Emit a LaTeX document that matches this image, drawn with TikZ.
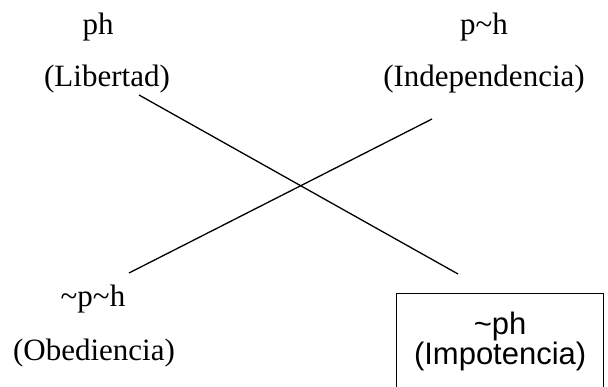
\documentclass[tikz,border=0pt]{standalone}
\usepackage{fontspec}
\setmainfont{Liberation Serif}
\setsansfont{Liberation Sans}
\usetikzlibrary{positioning}
\newcommand{\tld}{\textasciitilde}

\begin{document}
\begin{tikzpicture}[
        x=1pt, y=-1pt,
        lbl/.style={inner sep=0pt, font=\fontsize{31}{37}\selectfont},
        boxlbl/.style={draw, line width=1.3pt, anchor=north west, minimum width=207pt, inner xsep=0pt, inner ysep=18.8pt, align=center, font=\sffamily\fontsize{31}{30}\selectfont},
        cross/.style={line width=1.3pt}
      ]
        \useasboundingbox (0,0) rectangle (608,387);
        \clip (0,0) rectangle (608,387);
        \node[lbl] (ph) at (98,27) {ph};
        \node[lbl] (lib) at (107,79) {(Libertad)};
        \node[lbl] (pnh) at (484,27) {p\tld h};
        \node[lbl] (ind) at (484,79) {(Independencia)};
        \node[lbl] (npnh) at (93,299) {\tld p\tld h};
        \node[lbl] (obe) at (94,353) {(Obediencia)};
        \node[boxlbl] (imp) at (396,293) {\tld ph\\(Impotencia)};
        \coordinate (libEnd) at (139,95);
        \coordinate (impEnd) at (458,274);
        \coordinate (indEnd) at (432,119);
        \coordinate (obeEnd) at (129,273);
        \draw[cross] (libEnd) -- (impEnd);
        \draw[cross] (indEnd) -- (obeEnd);
      \end{tikzpicture}
\end{document}
